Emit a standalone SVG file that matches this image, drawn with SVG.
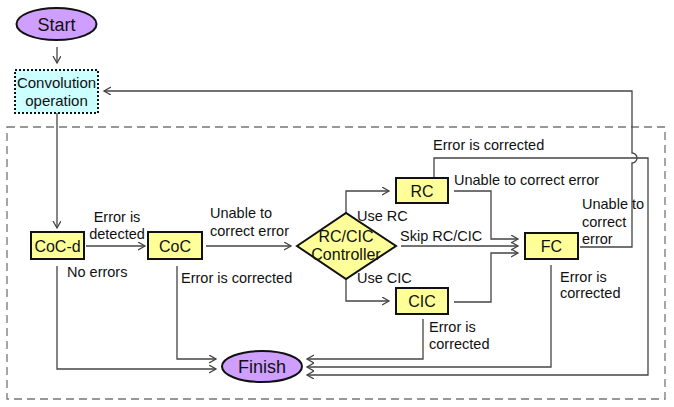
<svg xmlns="http://www.w3.org/2000/svg" width="674" height="407" viewBox="0 0 674 407">
<defs>
<style>
.lbl{font-family:"Liberation Sans",Arial,sans-serif;font-size:14.5px;fill:#111}
.box{fill:#ffff99;stroke:#111;stroke-width:2}
.bt{font-family:"Liberation Sans",Arial,sans-serif;font-size:16px;fill:#111;text-anchor:middle}
.term{fill:#cf9fff;stroke:#111;stroke-width:2}
.tt{font-family:"Liberation Sans",Arial,sans-serif;font-size:18px;fill:#111;text-anchor:middle}
.con{fill:none;stroke:#444;stroke-width:1.3}
</style>
<marker id="arr" markerUnits="userSpaceOnUse" markerWidth="10" markerHeight="10" refX="7" refY="4" orient="auto">
<path d="M0,0 L7,4 L0,8" fill="none" stroke="#444" stroke-width="1.3"/>
</marker>
</defs>
<rect width="674" height="407" fill="#fff"/>
<rect id="frame" x="7" y="127" width="658" height="272" fill="none" stroke="#777" stroke-width="1.3" stroke-dasharray="8,5"/>

<g id="connectors" class="con">
<path d="M57,47 L57,63" marker-end="url(#arr)"/>
<path d="M57,113 L57,228" marker-end="url(#arr)"/>
<path d="M86,246 L145,246" marker-end="url(#arr)"/>
<path d="M206,246 L291,246" marker-end="url(#arr)"/>
<path d="M346,213 L346,191 L389,191" marker-end="url(#arr)"/>
<path d="M401,246 L518,246" marker-end="url(#arr)"/>
<path d="M346,279 L346,301 L389,301" marker-end="url(#arr)"/>
<path d="M454,191 L491,191 L491,239 L518,239" marker-end="url(#arr)"/>
<path d="M454,302 L491,302 L491,253 L518,253" marker-end="url(#arr)"/>
<path d="M57,266 L57,369 L216,369" marker-end="url(#arr)"/>
<path d="M177,266 L177,359 L216,359" marker-end="url(#arr)"/>
<path d="M423,319 L423,359 L307,359" marker-end="url(#arr)"/>
<path d="M551,265 L551,367 L307,367" marker-end="url(#arr)"/>
<path d="M434,178 L434,158 L648,158 L648,375 L307,375" marker-end="url(#arr)"/>
<path d="M580,247 L632,247 L632,163 A5,5 0 0 0 632,153 L632,91 L104,91" marker-end="url(#arr)"/>
</g>

<g id="start">
<ellipse class="term" cx="56.5" cy="24" rx="40" ry="16"/>
<text class="tt" x="56.5" y="30.5">Start</text>
</g>
<g id="conv">
<rect x="15" y="70" width="83" height="43" fill="#ccffff" stroke="#111" stroke-width="2" stroke-dasharray="2,2"/>
<text x="56.5" y="88" font-family="Liberation Sans, Arial, sans-serif" font-size="15" fill="#111" text-anchor="middle">Convolution</text>
<text x="56.5" y="106" font-family="Liberation Sans, Arial, sans-serif" font-size="15" fill="#111" text-anchor="middle">operation</text>
</g>
<g id="cocd">
<rect class="box" x="31" y="232" width="53" height="27"/>
<text class="bt" x="57.5" y="251.5">CoC-d</text>
</g>
<g id="coc">
<rect class="box" x="148" y="232" width="54" height="27"/>
<text class="bt" x="175" y="251.5">CoC</text>
</g>
<g id="ctrl">
<polygon class="box" points="297,246 346,213 396,246 346,279"/>
<text class="bt" x="346" y="242">RC/CIC</text>
<text class="bt" x="346" y="260">Controller</text>
</g>
<g id="rc">
<rect class="box" x="396" y="178" width="52" height="25"/>
<text class="bt" x="422" y="196.5">RC</text>
</g>
<g id="cic">
<rect class="box" x="396" y="288" width="52" height="26"/>
<text class="bt" x="422" y="307">CIC</text>
</g>
<g id="fc">
<rect class="box" x="525" y="233" width="53" height="26"/>
<text class="bt" x="551.5" y="251.5">FC</text>
</g>
<g id="finish">
<ellipse class="term" cx="262" cy="366.5" rx="40" ry="15.5"/>
<text class="tt" x="262" y="373">Finish</text>
</g>

<g id="labels" class="lbl">
<text x="117" y="222" text-anchor="middle">Error is</text>
<text x="117" y="239" text-anchor="middle">detected</text>
<text x="210" y="218">Unable to</text>
<text x="210" y="236">correct error</text>
<text x="67" y="277">No errors</text>
<text x="181" y="283">Error is corrected</text>
<text x="357" y="221">Use RC</text>
<text x="400" y="241">Skip RC/CIC</text>
<text x="357" y="283">Use CIC</text>
<text x="433" y="150">Error is corrected</text>
<text x="454" y="185">Unable to correct error</text>
<text x="582" y="209">Unable to</text>
<text x="582" y="227">correct</text>
<text x="582" y="244">error</text>
<text x="560" y="282">Error is</text>
<text x="560" y="298">corrected</text>
<text x="429" y="332">Error is</text>
<text x="429" y="349">corrected</text>
</g>
</svg>
